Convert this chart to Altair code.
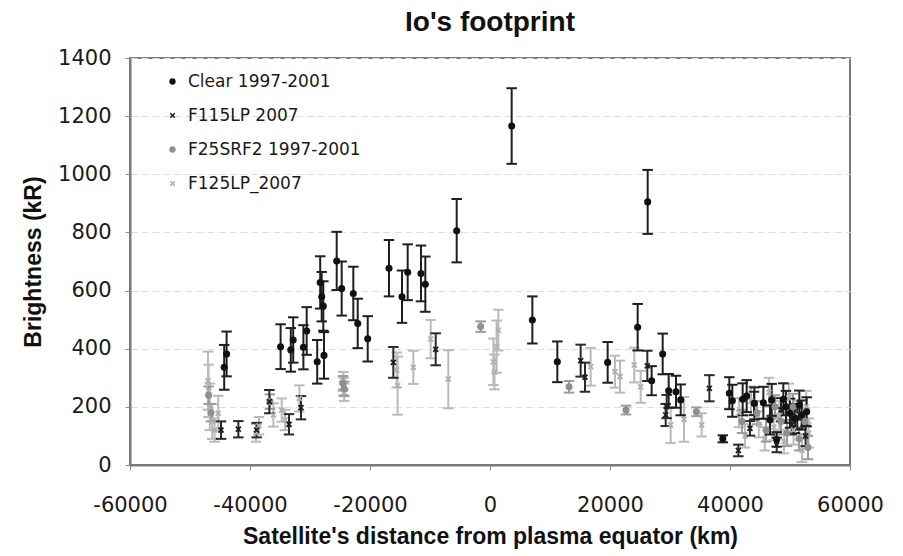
import altair as alt
import pandas as pd

# ---------------- data ----------------
clear_x = [-44300, -43900, -34900, -33200, -32800, -31100, -30550, -28800, -28300, -28050,
           -27780, -27670, -25550, -24720, -22780, -22050, -20380, -16830, -14670, -13720,
           -11500, -10780, -5550, 3610, 7060, 11220, 19610, 24610, 26280, 26940,
           28780, 29780, 31000, 31780, 38800, 39890, 40390, 42110, 42780, 44060,
           45560, 46670, 46950, 47780, 48890, 49330, 50000, 50830, 51560, 51950, 52780]
clear_y = [336, 382, 407, 396, 430, 405, 461, 355, 628, 579,
           547, 377, 702, 607, 590, 487, 434, 677, 579, 663,
           659, 622, 806, 1166, 499, 355, 353, 474, 905, 290,
           382, 255, 252, 224, 90, 247, 221, 226, 237, 212,
           214, 155, 224, 88, 226, 200, 178, 160, 206, 172, 183]
clear_err = [77, 77, 77, 75, 78, 76, 82, 75, 90, 85,
             85, 80, 100, 93, 92, 85, 78, 97, 90, 96,
             96, 95, 109, 130, 81, 70, 70, 80, 110, 50,
             70, 58, 55, 53, 12, 55, 55, 55, 55, 55,
             55, 50, 55, 25, 55, 55, 50, 50, 50, 50, 50]

f115_x = [-44830, -41940, -38890, -36780, -33500, -31500, -16110, -9050, 15110, 15830,
          26220, 29280, 29440, 36560, 41390, 43330, 44000, 47780, 48500, 50300, 51200, 52600]
f115_y = [120, 123, 120, 218, 140, 197, 353, 398, 359, 302,
          341, 172, 201, 264, 50, 126, 212, 69, 190, 140, 165, 100]
f115_err = [30, 28, 25, 40, 35, 40, 53, 55, 55, 50,
            52, 38, 40, 45, 20, 25, 40, 25, 40, 35, 40, 35]

f25_x = [-46900, -46500, -36670, -24500, -24300, -1560, 13170, 22670, 34400,
         42000, 44500, 46000, 47500, 48500, 49500, 50500, 51500, 52500, 53000]
f25_y = [240, 180, 218, 281, 262, 476, 269, 189, 183,
         150, 180, 120, 200, 150, 110, 200, 90, 150, 60]
f25_err = [30, 30, 25, 25, 25, 18, 20, 15, 15,
           40, 40, 40, 40, 45, 45, 45, 40, 45, 40]

f125_x = [-47000, -46900, -46700, -46300, -45900, -45300, -39000, -38500, -36100, -34720,
          -34170, -31780, -24450, -24400, -24300, -15550, -15400, -12780, -9890, -6950,
          560, 750, 1110, 1390, 16780, 20830, 21670, 24050, 25110, 30110,
          32330, 35280, 41500, 42500, 43500, 44800, 45800, 46500, 47300, 48200,
          49000, 49800, 50600, 51300, 52000, 52700, 53100]
f125_y = [290, 255, 200, 150, 120, 178, 110, 135, 172, 189,
          155, 229, 290, 270, 250, 327, 273, 336, 433, 295,
          355, 320, 407, 464, 338, 321, 304, 344, 269, 138,
          157, 138, 180, 100, 220, 140, 90, 250, 130, 170,
          80, 230, 120, 170, 50, 200, 110]
f125_err = [100, 90, 80, 60, 40, 60, 30, 30, 40, 40,
            35, 45, 30, 30, 30, 60, 100, 57, 66, 100,
            80, 60, 90, 70, 65, 55, 55, 60, 55, 62,
            77, 40, 50, 40, 50, 45, 40, 50, 45, 50,
            40, 50, 50, 50, 40, 55, 50]

legend_order = ["Clear 1997-2001", "F115LP 2007", "F25SRF2 1997-2001", "F125LP_2007"]
point_colors = ["#111111", "#1e1e1e", "#8f8f8f", "#b0b0b0"]
bar_colors = ["#1f1f1f", "#2a2a2a", "#9c9c9c", "#bababa"]
X_PATH = ("M0.53,-0.884L0.884,-0.53L0.354,0L0.884,0.53L0.53,0.884L0,0.354L-0.53,0.884"
          "L-0.884,0.53L-0.354,0L-0.884,-0.53L-0.53,-0.884L0,-0.354Z")
shapes = ["circle", X_PATH, "circle", X_PATH]

groups = [
    ("F125LP_2007", f125_x, f125_y, f125_err),
    ("F25SRF2 1997-2001", f25_x, f25_y, f25_err),
    ("F115LP 2007", f115_x, f115_y, f115_err),
    ("Clear 1997-2001", clear_x, clear_y, clear_err),
]
rows = []
for name, xs, ys, es in groups:
    for xv, yv, ev in zip(xs, ys, es):
        rows.append({"series": name, "x": xv, "y": yv, "lo": yv - ev, "hi": yv + ev})
df = pd.DataFrame(rows)

x_axis = alt.Axis(values=[-60000, -40000, -20000, 0, 20000, 40000, 60000],
                  labelExpr="datum.value + ''", grid=False, labelFlush=False,
                  title="Satellite's distance from plasma equator (km)")
y_axis = alt.Axis(values=[0, 200, 400, 600, 800, 1000, 1200, 1400],
                  labelExpr="datum.value + ''",
                  title="Brightness (kR)", grid=True)

def xenc():
    return alt.X("x:Q", scale=alt.Scale(domain=[-60000, 60000], nice=False, zero=False), axis=x_axis)

def yenc(field):
    return alt.Y(f"{field}:Q", scale=alt.Scale(domain=[0, 1400], nice=False), axis=y_axis)

cscale = alt.Scale(domain=legend_order, range=point_colors)
sscale = alt.Scale(domain=legend_order, range=shapes)

layers = []
# error bars, one fixed-colour layer per series (light series first)
for name, _, _, _ in groups:
    col = bar_colors[legend_order.index(name)]
    sub = alt.Chart(df).transform_filter(alt.datum.series == name)
    layers.append(sub.mark_rule(strokeWidth=2, color=col).encode(
        x=xenc(), y=yenc("lo"), y2="hi:Q"))
    layers.append(sub.mark_point(shape="stroke", filled=False, size=110, strokeWidth=2,
                                 opacity=1, color=col).encode(x=xenc(), y=yenc("lo")))
    layers.append(sub.mark_point(shape="stroke", filled=False, size=110, strokeWidth=2,
                                 opacity=1, color=col).encode(x=xenc(), y=yenc("hi")))

leg = alt.Legend(title=None, orient="none", legendX=34, legendY=15, labelLimit=0)
pts = alt.Chart(df).mark_point(filled=True, size=50, opacity=1).encode(
    x=xenc(), y=yenc("y"),
    color=alt.Color("series:N", scale=cscale, legend=leg),
    shape=alt.Shape("series:N", scale=sscale, legend=leg),
)
layers.append(pts)

chart = alt.layer(*layers).properties(
    width=720, height=407,
    title=alt.TitleParams("Io's footprint", font="Liberation Sans", fontSize=28,
                          fontWeight="bold", color="#111", anchor="middle", offset=10),
    autosize=alt.AutoSizeParams(type="none"),
    padding={"left": 130, "top": 58, "right": 53, "bottom": 91},
    background="white",
).configure_view(
    stroke="#7a7a7a", strokeWidth=2,
).configure_axis(
    labelFont="DejaVu Sans", labelFontSize=21, labelColor="#1a1a1a",
    titleFont="Liberation Sans", titleFontSize=23, titleFontWeight="bold", titleColor="#111",
    domainColor="#7a7a7a", domainWidth=2, tickColor="#8a8a8a", tickSize=5,
    gridColor="#dedede", gridDash=[7, 4], gridWidth=1,
).configure_axisY(
    labelPadding=14, titlePadding=12,
).configure_axisX(
    labelPadding=24, titlePadding=10,
).configure_legend(
    padding=0,
    labelFont="DejaVu Sans", labelFontSize=17, labelColor="#1a1a1a",
    symbolSize=40, rowPadding=16, labelOffset=7,
)

chart.save("out.html", embed_options={"renderer": "svg", "actions": False})
